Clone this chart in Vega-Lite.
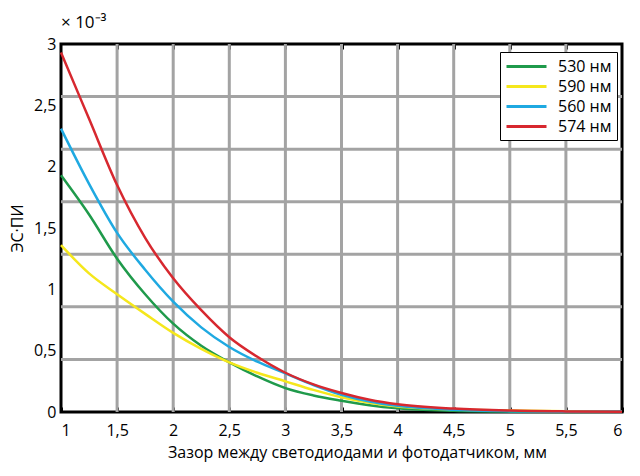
{
  "$schema": "https://vega.github.io/schema/vega-lite/v6.json",
  "width": 561,
  "height": 368,
  "autosize": {"type": "none"},
  "padding": {"left": 61, "top": 44, "right": 18, "bottom": 64},
  "background": "white",
  "title": {"text": "× 10⁻³", "anchor": "start", "frame": "group", "font": "Open Sans", "fontSize": 17, "fontWeight": "normal", "color": "black", "offset": 4},
  "config": {
    "view": {"stroke": "black", "strokeWidth": 3},
    "font": "Open Sans"
  },
  "datasets": {
    "hgrid": [{"g": 0.4286}, {"g": 0.8571}, {"g": 1.2857}, {"g": 1.7143}, {"g": 2.1429}, {"g": 2.5714}],
    "vgrid": [{"x": 1.5}, {"x": 2}, {"x": 2.5}, {"x": 3}, {"x": 3.5}, {"x": 4}, {"x": 4.5}, {"x": 5}, {"x": 5.5}],
    "curves": [
      {"x": 1, "v": 1.93, "s": "530 нм"}, {"x": 1.25, "v": 1.61, "s": "530 нм"}, {"x": 1.5, "v": 1.25, "s": "530 нм"}, {"x": 1.75, "v": 0.96, "s": "530 нм"}, {"x": 2, "v": 0.72, "s": "530 нм"}, {"x": 2.25, "v": 0.54, "s": "530 нм"}, {"x": 2.5, "v": 0.405, "s": "530 нм"}, {"x": 2.75, "v": 0.29, "s": "530 нм"}, {"x": 3, "v": 0.195, "s": "530 нм"}, {"x": 3.25, "v": 0.135, "s": "530 нм"}, {"x": 3.5, "v": 0.092, "s": "530 нм"}, {"x": 3.75, "v": 0.055, "s": "530 нм"}, {"x": 4, "v": 0.03, "s": "530 нм"}, {"x": 4.5, "v": 0.01, "s": "530 нм"}, {"x": 5, "v": 0.003, "s": "530 нм"}, {"x": 5.5, "v": 0.001, "s": "530 нм"}, {"x": 6, "v": 0.002, "s": "530 нм"},
      {"x": 1, "v": 1.36, "s": "590 нм"}, {"x": 1.25, "v": 1.13, "s": "590 нм"}, {"x": 1.5, "v": 0.96, "s": "590 нм"}, {"x": 1.75, "v": 0.80, "s": "590 нм"}, {"x": 2, "v": 0.645, "s": "590 нм"}, {"x": 2.25, "v": 0.515, "s": "590 нм"}, {"x": 2.5, "v": 0.405, "s": "590 нм"}, {"x": 2.75, "v": 0.32, "s": "590 нм"}, {"x": 3, "v": 0.25, "s": "590 нм"}, {"x": 3.25, "v": 0.18, "s": "590 нм"}, {"x": 3.5, "v": 0.12, "s": "590 нм"}, {"x": 3.75, "v": 0.075, "s": "590 нм"}, {"x": 4, "v": 0.045, "s": "590 нм"}, {"x": 4.5, "v": 0.02, "s": "590 нм"}, {"x": 5, "v": 0.012, "s": "590 нм"}, {"x": 5.5, "v": 0.006, "s": "590 нм"}, {"x": 6, "v": 0.003, "s": "590 нм"},
      {"x": 1, "v": 2.31, "s": "560 нм"}, {"x": 1.25, "v": 1.86, "s": "560 нм"}, {"x": 1.5, "v": 1.46, "s": "560 нм"}, {"x": 1.75, "v": 1.16, "s": "560 нм"}, {"x": 2, "v": 0.90, "s": "560 нм"}, {"x": 2.25, "v": 0.69, "s": "560 нм"}, {"x": 2.5, "v": 0.53, "s": "560 нм"}, {"x": 2.75, "v": 0.41, "s": "560 нм"}, {"x": 3, "v": 0.315, "s": "560 нм"}, {"x": 3.25, "v": 0.22, "s": "560 нм"}, {"x": 3.5, "v": 0.14, "s": "560 нм"}, {"x": 3.75, "v": 0.085, "s": "560 нм"}, {"x": 4, "v": 0.05, "s": "560 нм"}, {"x": 4.5, "v": 0.018, "s": "560 нм"}, {"x": 5, "v": 0.007, "s": "560 нм"}, {"x": 5.5, "v": 0.003, "s": "560 нм"}, {"x": 6, "v": 0.004, "s": "560 нм"},
      {"x": 1, "v": 2.93, "s": "574 нм"}, {"x": 1.25, "v": 2.39, "s": "574 нм"}, {"x": 1.5, "v": 1.85, "s": "574 нм"}, {"x": 1.75, "v": 1.42, "s": "574 нм"}, {"x": 2, "v": 1.09, "s": "574 нм"}, {"x": 2.25, "v": 0.83, "s": "574 нм"}, {"x": 2.5, "v": 0.61, "s": "574 нм"}, {"x": 2.75, "v": 0.45, "s": "574 нм"}, {"x": 3, "v": 0.32, "s": "574 нм"}, {"x": 3.25, "v": 0.225, "s": "574 нм"}, {"x": 3.5, "v": 0.155, "s": "574 нм"}, {"x": 3.75, "v": 0.1, "s": "574 нм"}, {"x": 4, "v": 0.063, "s": "574 нм"}, {"x": 4.5, "v": 0.028, "s": "574 нм"}, {"x": 5, "v": 0.012, "s": "574 нм"}, {"x": 5.5, "v": 0.005, "s": "574 нм"}, {"x": 6, "v": 0.002, "s": "574 нм"}
    ]
  },
  "layer": [
    {
      "data": {"name": "hgrid"},
      "mark": {"type": "rule", "color": "#a3a3a3", "strokeWidth": 3},
      "encoding": {
        "y": {"field": "g", "type": "quantitative", "scale": {"domain": [0, 3], "nice": false, "zero": false},
          "axis": {"title": "ЭС·ПИ", "values": [0, 0.5, 1, 1.5, 2, 2.5, 3], "grid": false, "domain": false, "ticks": false, "tickSize": 0, "labelExpr": "replace(format(datum.value, '~g'), '.', ',')", "labelFont": "Open Sans", "labelFontSize": 16, "labelColor": "black", "labelPadding": 5, "titleFont": "Open Sans", "titleFontSize": 16, "titleFontWeight": "normal", "titleColor": "black", "titlePadding": 8}}
      }
    },
    {
      "data": {"name": "vgrid"},
      "mark": {"type": "rule", "color": "#a3a3a3", "strokeWidth": 3},
      "encoding": {
        "x": {"field": "x", "type": "quantitative", "scale": {"domain": [1, 6], "nice": false, "zero": false},
          "axis": {"orient": "top", "title": null, "labels": false, "grid": false, "domain": false, "values": [1.5, 2, 2.5, 3, 3.5, 4, 4.5, 5, 5.5], "ticks": true, "tickSize": -5, "tickWidth": 3, "tickColor": "black"}}
      }
    },
    {
      "data": {"name": "curves"},
      "mark": {"type": "line", "strokeWidth": 2.5, "interpolate": "monotone"},
      "encoding": {
        "x": {"field": "x", "type": "quantitative", "scale": {"domain": [1, 6], "nice": false, "zero": false},
          "axis": {"orient": "bottom", "title": "Зазор между светодиодами и фотодатчиком, мм", "values": [1, 1.5, 2, 2.5, 3, 3.5, 4, 4.5, 5, 5.5, 6], "grid": false, "domain": false, "ticks": true, "tickSize": -5, "tickWidth": 3, "tickColor": "black", "labelExpr": "replace(format(datum.value, '~g'), '.', ',')", "labelFont": "Open Sans", "labelFontSize": 16, "labelColor": "black", "labelPadding": 15, "titleFont": "Open Sans", "titleFontSize": 16, "titleFontWeight": "normal", "titleColor": "black", "titlePadding": 6, "titleX": 296, "titleAlign": "center"}},
        "y": {"field": "v", "type": "quantitative", "scale": {"domain": [0, 3], "nice": false, "zero": false},
          "axis": {"title": "ЭС·ПИ", "values": [0, 0.5, 1, 1.5, 2, 2.5, 3], "grid": false, "domain": false, "ticks": false, "tickSize": 0, "labelExpr": "replace(format(datum.value, '~g'), '.', ',')", "labelFont": "Open Sans", "labelFontSize": 16, "labelColor": "black", "labelPadding": 5, "titleFont": "Open Sans", "titleFontSize": 16, "titleFontWeight": "normal", "titleColor": "black", "titlePadding": 8}},
        "color": {"field": "s", "type": "nominal", "sort": null,
          "scale": {"domain": ["530 нм", "590 нм", "560 нм", "574 нм"], "range": ["#1f9a4b", "#f5e71c", "#1fa9e1", "#d7282f"]},
          "legend": {"title": null, "orient": "none", "legendX": 439, "legendY": 8, "symbolType": "M-1,0H4", "symbolSize": 256, "symbolStrokeWidth": 3, "symbolFillColor": "transparent", "labelFont": "Open Sans", "labelFontSize": 16, "labelColor": "black", "labelOffset": 34, "rowPadding": 2, "padding": 5, "strokeColor": "black", "fillColor": "white"}}
      }
    }
  ],
  "resolve": {"axis": {"x": "independent"}}
}
